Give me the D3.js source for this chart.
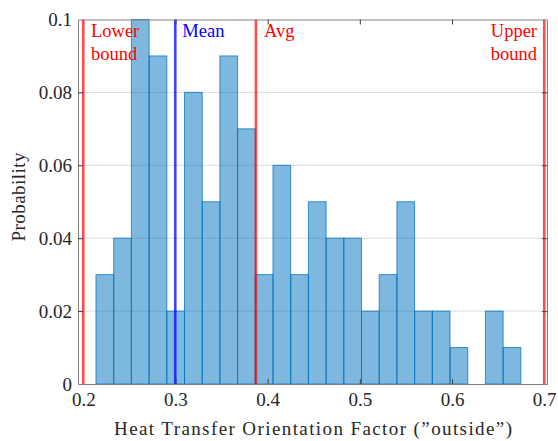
<!DOCTYPE html>
<html>
<head>
<meta charset="utf-8">
<script src="https://cdn.jsdelivr.net/npm/d3@7"></script>
<style>
  html, body { margin: 0; padding: 0; background: #fff; }
  svg { display: block; }
  text { font-family: "Liberation Serif", "Times New Roman", serif; }
</style>
</head>
<body>
<svg id="chart" width="558" height="441"></svg>
<script>
// Histogram of the orientation factor (normalised to probability)
const binEdges = [0.2138, 0.2330, 0.2522, 0.2714, 0.2906, 0.3098, 0.3290, 0.3482,
                  0.3674, 0.3866, 0.4058, 0.4250, 0.4442, 0.4634, 0.4826, 0.5018,
                  0.5210, 0.5402, 0.5594, 0.5786, 0.5978, 0.6170, 0.6362, 0.6554, 0.6746];
const probabilities = [0.03, 0.04, 0.10, 0.09, 0.02, 0.08, 0.05, 0.09, 0.07, 0.03,
                       0.06, 0.03, 0.05, 0.04, 0.04, 0.02, 0.03, 0.05, 0.02, 0.02,
                       0.01, 0.00, 0.02, 0.01];

// Reference lines
const lowerBound = 0.2;
const upperBound = 0.7;
const meanValue = 0.2998;
const avgValue = 0.3873;

const xTicks = [0.2, 0.3, 0.4, 0.5, 0.6, 0.7];
const yTicks = [0, 0.02, 0.04, 0.06, 0.08, 0.1];
const xDomain = [0.1943, 0.7030];
const yDomain = [0, 0.1];

const xTitle = "Heat Transfer Orientation Factor (\u201Doutside\u201D)";
const yTitle = "Probability";

const svg = d3.select("#chart");
const margin = { left: 78, right: 11, top: 19.5, bottom: 57 };
const W = 558, H = 441;
const x = d3.scaleLinear().domain(xDomain).range([margin.left, W - margin.right]);
const y = d3.scaleLinear().domain(yDomain).range([H - margin.bottom, margin.top]);

const axisColor = "#808080";
const textColor = "#262626";
const fontSize = 19;

// horizontal grid
svg.append("g").selectAll("line").data(yTicks.slice(1, -1)).join("line")
  .attr("x1", x.range()[0]).attr("x2", x.range()[1])
  .attr("y1", d => y(d)).attr("y2", d => y(d))
  .attr("stroke", "#dcdcdc").attr("stroke-width", 1);

// bars
const bins = probabilities.map((p, i) => ({ x0: binEdges[i], x1: binEdges[i + 1], p }));
svg.append("g").selectAll("rect").data(bins.filter(b => b.p > 0)).join("rect")
  .attr("x", d => x(d.x0))
  .attr("width", d => x(d.x1) - x(d.x0))
  .attr("y", d => y(d.p))
  .attr("height", d => y(0) - y(d.p))
  .attr("fill", "#0072BD").attr("fill-opacity", 0.5)
  .attr("stroke", "#0072BD").attr("stroke-opacity", 0.75).attr("stroke-width", 1);

// reference lines
const refLines = [
  { v: lowerBound, color: "#ff0000", op: 0.7 },
  { v: meanValue, color: "#0000ff", op: 0.75 },
  { v: avgValue, color: "#ff0000", op: 0.7 },
  { v: upperBound, color: "#ff0000", op: 0.7 }
];
svg.append("g").selectAll("line").data(refLines).join("line")
  .attr("x1", d => x(d.v)).attr("x2", d => x(d.v))
  .attr("y1", y(yDomain[0])).attr("y2", y(yDomain[1]))
  .attr("stroke", d => d.color).attr("stroke-opacity", d => d.op)
  .attr("stroke-width", 2.6);

// axes (box style, ticks pointing inward)
const tickLen = 5;
const axBottom = svg.append("g").attr("transform", `translate(0,${y(0)})`)
  .call(d3.axisBottom(x).tickValues(xTicks).tickSizeInner(-tickLen).tickSizeOuter(0)
    .tickPadding(8.5).tickFormat(d3.format("")));
const axTop = svg.append("g").attr("transform", `translate(0,${y(0.1)})`)
  .call(d3.axisTop(x).tickValues(xTicks).tickSizeInner(-tickLen).tickSizeOuter(0).tickFormat(""));
const axLeft = svg.append("g").attr("transform", `translate(${x(xDomain[0])},0)`)
  .call(d3.axisLeft(y).tickValues(yTicks).tickSizeInner(-tickLen).tickSizeOuter(0)
    .tickPadding(6).tickFormat(d => d === 0 ? "0" : d3.format("")(+d.toFixed(2))));
const axRight = svg.append("g").attr("transform", `translate(${x(xDomain[1])},0)`)
  .call(d3.axisRight(y).tickValues(yTicks).tickSizeInner(-tickLen).tickSizeOuter(0).tickFormat(""));

[axBottom, axTop, axLeft, axRight].forEach(g => {
  g.attr("font-family", "Liberation Serif, serif").attr("font-size", fontSize);
  g.select(".domain").attr("stroke", axisColor).attr("stroke-width", 1);
  g.selectAll(".tick line").attr("stroke", "#404040").attr("stroke-width", 1);
  g.selectAll(".tick text").attr("fill", textColor)
    .style("font-family", "'Liberation Serif', serif").style("font-size", fontSize + "px");
});
// ticks at the box corners are hidden by the frame
[axBottom, axTop].forEach(g => g.selectAll(".tick line").filter(d => d === 0.2 || d === 0.7).attr("display", "none"));
[axLeft, axRight].forEach(g => g.selectAll(".tick line").filter(d => d === 0 || d === 0.1).attr("display", "none"));

// line annotations
const ann = svg.append("g").style("font-size", "18.5px");
ann.append("text").attr("x", 91).attr("y", 36.5).attr("fill", "#ff0000").text("Lower");
ann.append("text").attr("x", 91).attr("y", 59.5).attr("fill", "#ff0000").text("bound");
ann.append("text").attr("x", x(meanValue) + 7).attr("y", 36.5).attr("fill", "#0000ff").text("Mean");
ann.append("text").attr("x", x(avgValue) + 8).attr("y", 36.5).attr("fill", "#ff0000").text("Avg");
ann.append("text").attr("x", 537).attr("y", 36.5).attr("text-anchor", "end").attr("fill", "#ff0000").text("Upper");
ann.append("text").attr("x", 537).attr("y", 59.5).attr("text-anchor", "end").attr("fill", "#ff0000").text("bound");

// axis titles
svg.append("text").attr("x", 313).attr("y", 435)
  .attr("text-anchor", "middle").attr("fill", textColor).style("font-size", fontSize + "px")
  .attr("textLength", 398).attr("lengthAdjust", "spacing")
  .text(xTitle);
svg.append("text").attr("transform", `translate(25,197) rotate(-90)`)
  .attr("text-anchor", "middle").attr("fill", textColor).style("font-size", fontSize + "px")
  .attr("textLength", 89).attr("lengthAdjust", "spacing")
  .text(yTitle);
</script>
</body>
</html>
